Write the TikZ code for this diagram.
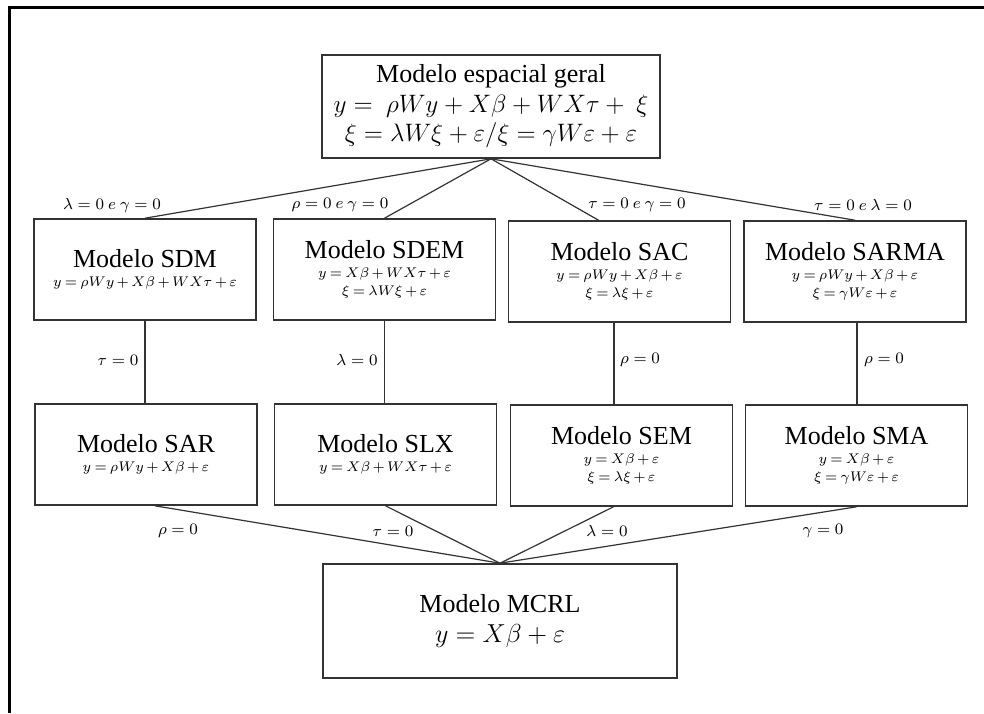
\RequirePackage{fix-cm}
\documentclass[tikz,border=0pt]{standalone}
\usepackage{fontspec}
\setmainfont{Liberation Serif}
\newcommand{\tamtitulo}{\fontsize{13}{15}\selectfont}
\newcommand{\tamgeral}{\fontsize{12.6}{14.8}\selectfont}
\newcommand{\tameq}{\fontsize{7}{9.2}\selectfont\medmuskip=2.5mu\thickmuskip=3.5mu}
\newcommand{\tamrot}{\fontsize{8}{9}\selectfont}

\tikzset{
  caixa/.style={draw=black!80, line width=0.8pt, minimum width=111pt, minimum height=50.5pt,
    align=center, inner sep=1pt, font=\tameq},
  ligacao/.style={draw=black!80, line width=0.6pt},
  rotulo/.style={font=\tamrot, inner sep=1pt}
}

\begin{document}
\begin{tikzpicture}[x=0.5pt, y=-0.5pt]
\useasboundingbox (0,0) rectangle (984,713);
% draw the frame
\draw[line width=1.5pt] (9.5,713) -- (9.5,7.5) -- (984,7.5);

% draw the general model
\node[caixa, minimum width=169pt, minimum height=51.5pt, font=\tamgeral] (geral) at (491,106.5) {
  {\tamtitulo Modelo espacial geral}\\
  $y=\ \rho Wy+X\beta+WX\tau+\ \xi$\\
  $\xi=\lambda W\xi+\varepsilon/\xi=\gamma W\varepsilon+\varepsilon$
};

% draw the first row of models
\node[caixa] (sdm) at (145,269.5) {
  {\tamtitulo Modelo SDM}\\
  $y=\rho Wy+X\beta+WX\tau+\varepsilon$
};
\node[caixa] (sdem) at (384.5,269.5) {
  {\tamtitulo Modelo SDEM}\\
  $y=X\beta+WX\tau+\varepsilon$\\
  $\xi=\lambda W\xi+\varepsilon$
};
\node[caixa] (sac) at (619.5,271.5) {
  {\tamtitulo Modelo SAC}\\
  $y=\rho Wy+X\beta+\varepsilon$\\
  $\xi=\lambda\xi+\varepsilon$
};
\node[caixa] (sarma) at (855,271.5) {
  {\tamtitulo Modelo SARMA}\\
  $y=\rho Wy+X\beta+\varepsilon$\\
  $\xi=\gamma W\varepsilon+\varepsilon$
};

% draw the second row of models
\node[caixa] (sar) at (146,454.5) {
  {\tamtitulo Modelo SAR}\\
  $y=\rho Wy+X\beta+\varepsilon$
};
\node[caixa] (slx) at (385.5,454.5) {
  {\tamtitulo Modelo SLX}\\
  $y=X\beta+WX\tau+\varepsilon$
};
\node[caixa] (sem) at (621.5,455.5) {
  {\tamtitulo Modelo SEM}\\
  $y=X\beta+\varepsilon$\\
  $\xi=\lambda\xi+\varepsilon$
};
\node[caixa] (sma) at (856.5,455.5) {
  {\tamtitulo Modelo SMA}\\
  $y=X\beta+\varepsilon$\\
  $\xi=\gamma W\varepsilon+\varepsilon$
};

% draw the linear model
\node[caixa, minimum width=177pt, minimum height=57pt, font=\tamtitulo] (mcrl) at (500,621) {
  Modelo MCRL\\
  $y=X\beta+\varepsilon$
};

% draw the connectors
\foreach \b/\s in {sdm/0pt, sdem/0pt, sac/-10.5pt, sarma/0pt}
  \draw[ligacao] (geral.south) -- ([xshift=\s]\b.north);
\foreach \a/\b/\s in {sdm/sar/0pt, sdem/slx/0pt, sac/sem/-2.75pt, sarma/sma/1pt}
  \draw[ligacao] ([xshift=\s]\a.south) -- ([xshift=\s]\a.south |- \b.north);
\foreach \b/\s in {sar/4.5pt, slx/0pt, sem/-4pt, sma/0pt}
  \draw[ligacao] ([xshift=\s]\b.south) -- (mcrl.north);

% draw the conditions
\node[rotulo] (c1) at (112,205) {$\lambda=0\ e\ \gamma=0$};
\node[rotulo] (c2) at (340,205) {$\rho=0\ e\ \gamma=0$};
\node[rotulo] (c3) at (637,205) {$\tau=0\ e\ \gamma=0$};
\node[rotulo] (c4) at (863,205) {$\tau=0\ e\ \lambda=0$};
\node[rotulo] (c5) at (118,360) {$\tau=0$};
\node[rotulo] (c6) at (357,360) {$\lambda=0$};
\node[rotulo] (c7) at (640,360) {$\rho=0$};
\node[rotulo] (c8) at (884,360) {$\rho=0$};
\node[rotulo] (c9) at (178,531) {$\rho=0$};
\node[rotulo] (c10) at (393,531) {$\tau=0$};
\node[rotulo] (c11) at (607,531) {$\lambda=0$};
\node[rotulo] (c12) at (823,531) {$\gamma=0$};
\end{tikzpicture}
\end{document}
